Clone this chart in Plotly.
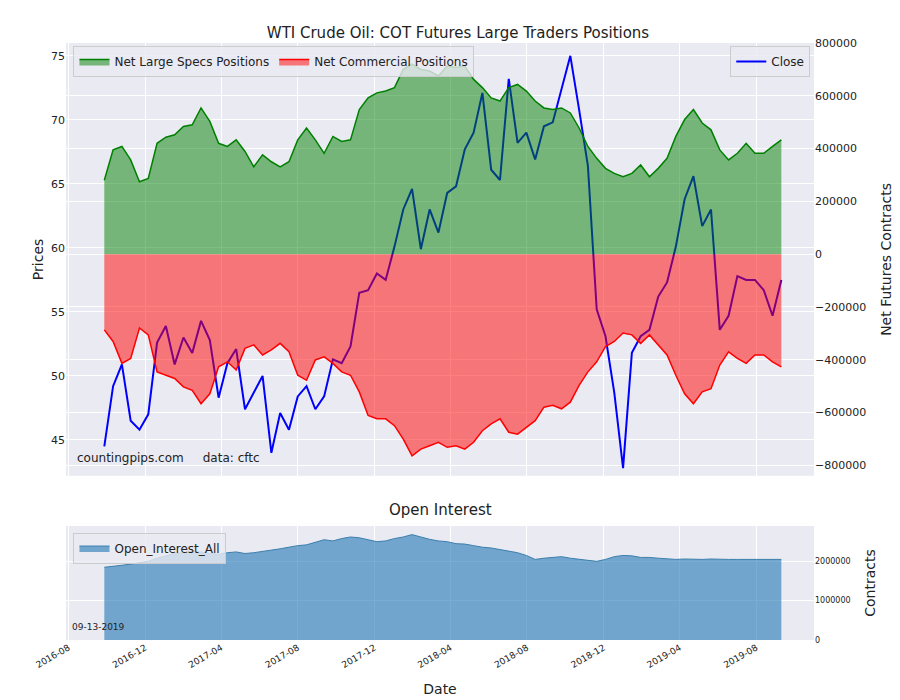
import pandas as pd
import plotly.graph_objects as go

dates = pd.date_range("2016-09-27", periods=78, freq="14D")
specs_k = [280,395,408,357,274,287,420,443,452,484,490,554,503,420,408,433,389,331,376,350,331,350,433,478,433,382,446,427,433,548,592,611,618,631,700,720,700,694,675,713,707,713,662,631,592,580,631,643,618,580,554,548,554,535,478,408,363,325,306,293,306,338,293,325,363,446,510,548,497,471,395,357,382,420,382,382,408,433]
comm_k = [-287,-331,-414,-395,-280,-306,-446,-459,-471,-503,-516,-567,-529,-427,-408,-439,-357,-344,-382,-363,-338,-370,-459,-478,-401,-389,-414,-446,-459,-522,-611,-624,-624,-650,-701,-764,-739,-726,-713,-732,-726,-739,-713,-669,-643,-624,-675,-682,-656,-631,-580,-573,-586,-561,-497,-446,-408,-350,-331,-299,-306,-338,-306,-344,-382,-459,-529,-567,-522,-510,-420,-370,-395,-414,-382,-382,-408,-427]
close = [44.5,49.2,50.9,46.5,45.8,47.0,52.6,53.9,50.9,53.0,51.8,54.3,52.8,48.3,51.0,52.1,47.4,48.7,50.0,44.0,47.1,45.8,48.4,49.2,47.4,48.4,51.3,51.0,52.3,56.5,56.7,58.0,57.5,60.1,63.0,64.6,59.9,63.0,61.2,64.3,64.8,67.7,69.0,72.1,66.1,65.3,73.2,68.2,69.0,66.9,69.5,69.8,72.4,75.0,70.8,66.4,55.2,53.1,48.7,42.8,51.8,53.1,53.6,56.2,57.3,60.1,63.8,65.6,61.7,63.0,53.6,54.7,57.8,57.5,57.5,56.7,54.7,57.5]
oi_m = [1.85,1.87,1.90,1.93,1.97,2.00,2.08,2.15,2.20,2.22,2.25,2.24,2.20,2.18,2.22,2.24,2.20,2.22,2.25,2.28,2.32,2.36,2.40,2.42,2.48,2.55,2.52,2.58,2.62,2.60,2.55,2.50,2.52,2.58,2.62,2.68,2.62,2.56,2.52,2.50,2.45,2.44,2.40,2.36,2.34,2.30,2.26,2.22,2.15,2.05,2.08,2.10,2.12,2.08,2.05,2.02,2.00,2.05,2.12,2.15,2.14,2.10,2.10,2.08,2.06,2.05,2.06,2.05,2.05,2.06]
oi_m = oi_m + [2.05]*(78-len(oi_m))

specs = [v*1000 for v in specs_k]
comm = [v*1000 for v in comm_k]
oi = [v*1e6 for v in oi_m]

fig = go.Figure()
fig.add_trace(go.Scatter(x=dates, y=close, mode="lines", name="Close", line=dict(color="blue", width=2),
                         yaxis="y", legend="legend2"))
fig.add_trace(go.Scatter(x=dates, y=specs, mode="lines", name="Net Large Specs Positions", fill="tozeroy",
                         line=dict(color="green", width=1.5), fillcolor="rgba(0,128,0,0.5)", yaxis="y2", legend="legend"))
fig.add_trace(go.Scatter(x=dates, y=comm, mode="lines", name="Net Commercial Positions", fill="tozeroy",
                         line=dict(color="red", width=1.5), fillcolor="rgba(255,0,0,0.5)", yaxis="y2", legend="legend"))
fig.add_trace(go.Scatter(x=dates, y=oi, mode="lines", name="Open_Interest_All", fill="tozeroy",
                         line=dict(color="#3b7fad", width=1), fillcolor="rgba(31,119,180,0.6)",
                         xaxis="x2", yaxis="y3", legend="legend3"))

xr = ["2016-07-28", "2019-11-01"]
grid = dict(gridcolor="white", showline=False, zeroline=False)
fig.update_layout(
    width=900, height=700, paper_bgcolor="white", plot_bgcolor="#EAEAF2",
    font=dict(family="DejaVu Sans", size=12, color="#222"),
    margin=dict(l=58, r=94, t=35, b=68),
    title=dict(text="WTI Crude Oil: COT Futures Large Traders Positions", x=0.5, xanchor="center", y=0.972, font=dict(size=15)),
    xaxis=dict(domain=[0, 1], range=xr, anchor="y", showticklabels=False, dtick="M4", tick0="2016-08-01", **grid),
    yaxis=dict(domain=[0.275, 1], range=[42.2, 76], title=dict(text="Prices", standoff=4), dtick=5, tickfont=dict(size=11), **grid),
    yaxis2=dict(overlaying="y", side="right", range=[-840000, 800000], dtick=200000, showgrid=True,
                title=dict(text="Net Futures Contracts"), tickfont=dict(size=11), tickformat="d", **{k: v for k, v in grid.items()}),
    xaxis2=dict(domain=[0, 1], range=xr, anchor="y3", dtick="M4", tick0="2016-08-01", tickformat="%Y-%m",
                tickangle=-30, tickfont=dict(size=9), title=dict(text="Date"), **grid),
    yaxis3=dict(domain=[0, 0.191], range=[0, 2900000], side="right", dtick=1000000, tickformat="d",
                title=dict(text="Contracts"), tickfont=dict(size=8), anchor="x2", **grid),
    legend=dict(x=0.01, y=0.995, xanchor="left", yanchor="top", orientation="h", bgcolor="rgba(234,234,242,0.8)",
                bordercolor="#ccc", borderwidth=1, font=dict(size=12)),
    legend2=dict(x=0.995, y=0.995, xanchor="right", yanchor="top", bgcolor="rgba(234,234,242,0.8)",
                 bordercolor="#ccc", borderwidth=1, font=dict(size=12)),
    legend3=dict(x=0.01, y=0.18, xanchor="left", yanchor="top", bgcolor="rgba(234,234,242,0.8)",
                 bordercolor="#ccc", borderwidth=1, font=dict(size=12)),
    annotations=[
        dict(text="countingpips.com     data: cftc", xref="paper", yref="paper", x=0.012, y=0.29, xanchor="left",
             yanchor="bottom", showarrow=False, font=dict(size=12)),
        dict(text="Open Interest", xref="paper", yref="paper", x=0.5, y=0.2, xanchor="center", yanchor="bottom",
             showarrow=False, font=dict(size=15)),
        dict(text="09-13-2019", xref="paper", yref="paper", x=0.006, y=0.01, xanchor="left", yanchor="bottom",
             showarrow=False, font=dict(size=9)),
    ],
)
fig.write_html("out.html")
